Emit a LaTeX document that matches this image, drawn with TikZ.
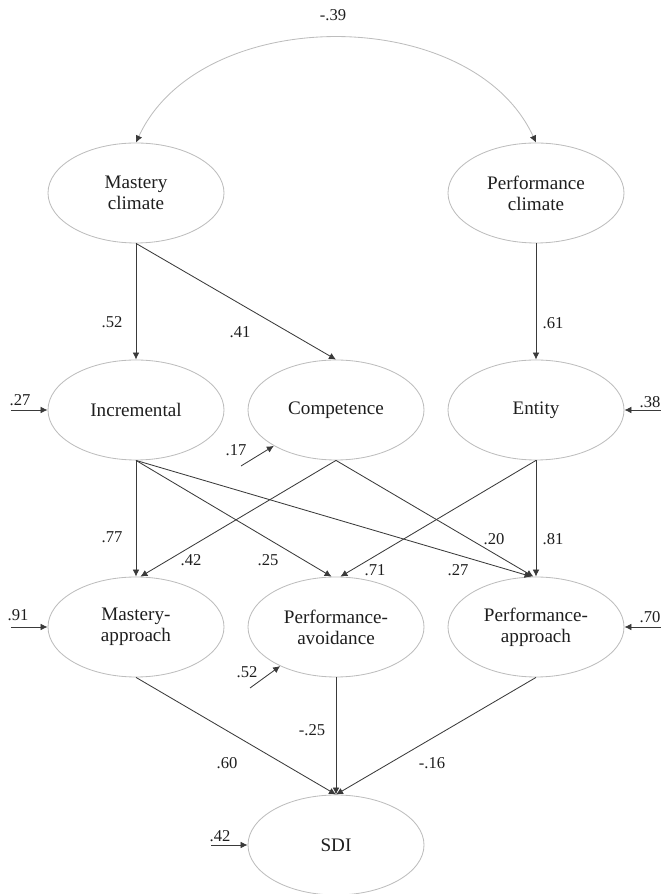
\documentclass[tikz,border=0pt]{standalone}
\usepackage{fontspec}
\setmainfont{Liberation Serif}
\usepackage{tikz}
\usetikzlibrary{arrows.meta}
\usetikzlibrary{shapes.geometric}
\definecolor{ellgray}{HTML}{BDBDBD}
\definecolor{linegray}{HTML}{3A3A3A}
\definecolor{txtgray}{HTML}{1E1E1E}
\tikzstyle{latent}=[ellipse, draw=ellgray, minimum width=4.4cm, minimum height=2.5cm, inner sep=0pt, align=center, text=txtgray, font=\fontsize{13.6}{15}\selectfont]
\tikzstyle{coef}=[inner sep=0pt, text=txtgray, font=\fontsize{11.8}{13}\selectfont]

\begin{document}
\begin{tikzpicture}[line width=0.6pt,
                    link/.style={draw=linegray, -{Latex[length=5pt,width=4.8pt]}},
                    cov/.style={draw=ellgray, {Latex[length=5pt,width=4.8pt,color=linegray]}-{Latex[length=5pt,width=4.8pt,color=linegray]}}]
    \useasboundingbox (0,0) rectangle (16.525,22.35);

    % climates
    \node[latent] (mclim) at (3.4,17.525) {Mastery\\climate};
    \node[latent] (pclim) at (13.4,17.525) {Performance\\climate};
    % beliefs and competence
    \node[latent] (incr) at (3.4,12.1) {Incremental};
    \node[latent] (comp) at (8.4,12.1) {Competence};
    \node[latent] (enti) at (13.4,12.1) {Entity};
    % goals
    \node[latent] (mapp) at (3.4,6.675) {Mastery-\\approach};
    \node[latent] (pavo) at (8.4,6.675) {Performance-\\avoidance};
    \node[latent] (papp) at (13.4,6.675) {Performance-\\approach};
    % outcome
    \node[latent] (sdi) at (8.4,1.225) {SDI};

    % residual starts
    \coordinate (eincr) at (0.275,12.1);
    \coordinate (eenti) at (16.525,12.1);
    \coordinate (ecomp) at (6.025,10.7);
    \coordinate (emapp) at (0.275,6.675);
    \coordinate (epapp) at (16.525,6.675);
    \coordinate (epavo) at (6.25,5.15);
    \coordinate (esdi) at (5.275,1.225);

    % correlation of climates
    \draw[cov] (mclim.north) .. controls (5.0,22.27) and (11.8,22.27) .. (pclim.north);
    \node[coef] (r_clim) at (8.325,21.975) {-.39};

    % climates -> beliefs
    \draw[link] (mclim.south) -- (incr.north);
    \draw[link] (mclim.south) -- (comp.north);
    \draw[link] (pclim.south) -- (enti.north);
    \node[coef] (b_mc_inc) at (2.8,14.3) {.52};
    \node[coef] (b_mc_com) at (6.0,14.05) {.41};
    \node[coef] (b_pc_ent) at (13.825,14.275) {.61};

    % beliefs -> goals
    \draw[link] (incr.south) -- (mapp.north);
    \draw[link] (incr.south) -- (pavo.95);
    \draw[link] (incr.south) -- (papp.95);
    \draw[link] (comp.south) -- (mapp.85);
    \draw[link] (comp.south) -- (papp.93);
    \draw[link] (enti.south) -- (pavo.85);
    \draw[link] (enti.south) -- (papp.north);
    \node[coef] (b_inc_map) at (2.8,8.925) {.77};
    \node[coef] (b_com_map) at (4.775,8.35) {.42};
    \node[coef] (b_inc_pav) at (6.7,8.35) {.25};
    \node[coef] (b_ent_pav) at (9.375,8.1) {.71};
    \node[coef] (b_inc_pap) at (11.45,8.1) {.27};
    \node[coef] (b_com_pap) at (12.35,8.875) {.20};
    \node[coef] (b_ent_pap) at (13.825,8.875) {.81};

    % goals -> SDI
    \draw[link] (mapp.south) -- (sdi.north);
    \draw[link] (pavo.south) -- (sdi.north);
    \draw[link] (papp.south) -- (sdi.north);
    \node[coef] (b_map_sdi) at (5.675,3.275) {.60};
    \node[coef] (b_pav_sdi) at (7.8,4.1) {-.25};
    \node[coef] (b_pap_sdi) at (10.8,3.275) {-.16};

    % residuals
    \draw[link] (eincr) -- (incr.west);
    \draw[link] (eenti) -- (enti.east);
    \draw[link] (ecomp) -- (comp.210);
    \draw[link] (emapp) -- (mapp.west);
    \draw[link] (epapp) -- (papp.east);
    \draw[link] (epavo) -- (pavo.215);
    \draw[link] (esdi) -- (sdi.west);
    \node[coef] (r_incr) at (0.5,12.35) {.27};
    \node[coef] (r_enti) at (16.25,12.3) {.38};
    \node[coef] (r_comp) at (5.9,11.1) {.17};
    \node[coef] (r_mapp) at (0.45,6.975) {.91};
    \node[coef] (r_papp) at (16.25,6.925) {.70};
    \node[coef] (r_pavo) at (6.175,5.55) {.52};
    \node[coef] (r_sdi) at (5.5,1.45) {.42};
\end{tikzpicture}
\end{document}
